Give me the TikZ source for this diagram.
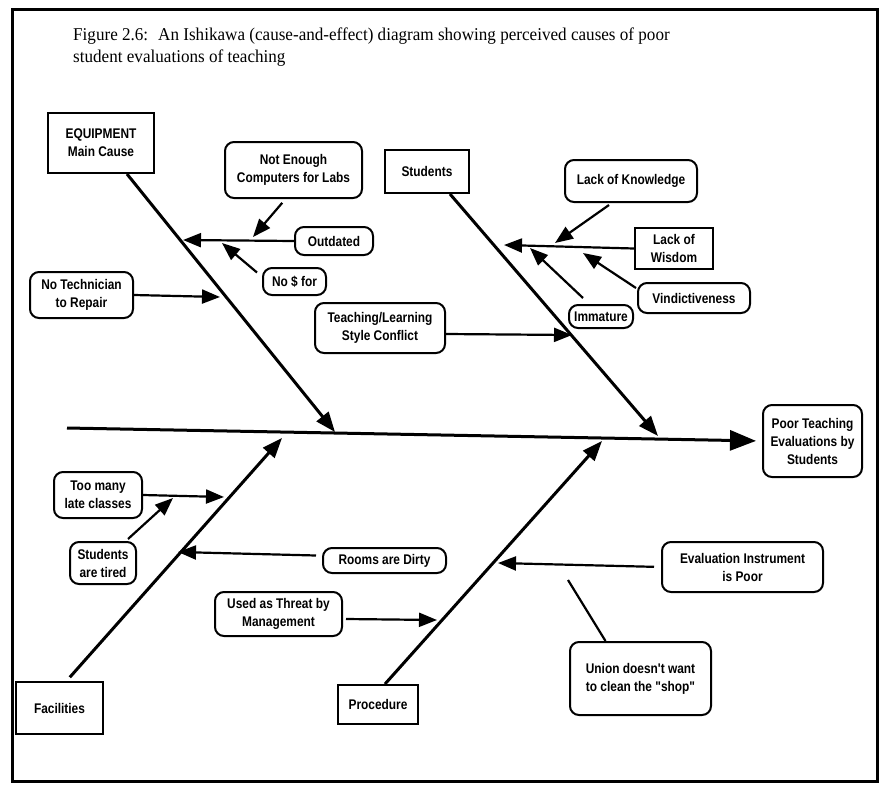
\documentclass[tikz,border=0pt]{standalone}
\usepackage{fontspec}
\setmainfont{Liberation Sans}[FakeStretch=0.85,Ligatures=TeXOff]
\newfontfamily\titlefont{Liberation Serif}[FakeStretch=0.95]
\usetikzlibrary{arrows.meta,calc}
\begin{document}
\begin{tikzpicture}[x=1pt,y=-1pt,
  box/.style={draw,line width=2pt,inner sep=0pt,align=center,font=\fontsize{14}{18}\selectfont\bfseries},
  rbox/.style={box,rounded corners=9pt},
  bone/.style={line width=3pt,-{Triangle[length=20pt,width=15pt]}},
  sub/.style={line width=2.2pt,-{Triangle[length=18pt,width=14pt]}},
  spine/.style={line width=3pt,-{Triangle[length=26pt,width=20pt]}},
  ttl/.style={anchor=base west,inner sep=0pt,font=\titlefont\fontsize{18}{22}\selectfont}]
\useasboundingbox (0,0) rectangle (891,798);
\fill[white] (0,0) rectangle (891,798);
% frame
\draw[line width=3pt] (12,9) rectangle (877,781);
% title
\node[ttl] (title1) at (73,40) {Figure 2.6:~ An Ishikawa (cause-and-effect) diagram showing perceived causes of poor};
\node[ttl] (title2) at (73,62) {student evaluations of teaching};

% main cause boxes
\node[box,minimum width=106,minimum height=60] (eq) at (101,143) {EQUIPMENT\\Main Cause};
\node[box,minimum width=84,minimum height=43] (stu) at (427,171.5) {Students};
\node[box,minimum width=87,minimum height=52] (fac) at (59.5,708) {Facilities};
\node[box,minimum width=80,minimum height=39] (pro) at (378,704.5) {Procedure};
\node[rbox,minimum width=99,minimum height=72] (eff) at (812.5,441) {Poor Teaching\\Evaluations by\\Students};

% sub cause boxes
\node[rbox,minimum width=137,minimum height=56] (nec) at (293.5,170) {Not Enough\\Computers for Labs};
\node[rbox,minimum width=78,minimum height=28] (out) at (334,241) {Outdated};
\node[rbox,minimum width=63,minimum height=27] (nos) at (294.5,281.5) {No \$ for};
\node[rbox,minimum width=103,minimum height=46] (ntr) at (81.5,295) {No Technician\\to Repair};
\node[rbox,minimum width=130,minimum height=50] (tlc) at (380,328) {Teaching/Learning\\Style Conflict};
\node[rbox,minimum width=132,minimum height=42] (lok) at (631,181) {Lack of Knowledge};
\node[box,minimum width=78,minimum height=41] (low) at (674,248.5) {Lack of\\Wisdom};
\node[rbox,minimum width=112,minimum height=30] (vin) at (694,298) {Vindictiveness};
\node[rbox,minimum width=64,minimum height=23] (imm) at (601,316.5) {Immature};
\node[rbox,minimum width=88,minimum height=46] (tml) at (98,495) {Too many\\late classes};
\node[rbox,minimum width=66,minimum height=42] (sat) at (103,563) {Students\\are tired};
\node[rbox,minimum width=123,minimum height=25] (rad) at (384.5,560.5) {Rooms are Dirty};
\node[rbox,minimum width=127,minimum height=44] (utm) at (278.5,614) {Used as Threat by\\Management};
\node[rbox,minimum width=161,minimum height=50] (eip) at (742.5,567) {Evaluation Instrument\\is Poor};
\node[rbox,minimum width=141,minimum height=73] (uni) at (640.5,678.5) {Union doesn't want\\to clean the "shop"};

% arrow tips
\coordinate (tail) at (67,428);
\coordinate (tEq) at (335,432);
\coordinate (tStu) at (658,436);
\coordinate (tFac) at (282,438);
\coordinate (tPro) at (602,441);
\coordinate (tOut) at (183,240);
\coordinate (tNec) at (253,237);
\coordinate (tNos) at (222,243);
\coordinate (tNtr) at (220,297);
\coordinate (tTlc) at (572,335);
\coordinate (tLok) at (555,243);
\coordinate (tLow) at (504,245);
\coordinate (tVin) at (583,253);
\coordinate (tImm) at (530,248);
\coordinate (tTml) at (224,497);
\coordinate (tSat) at (173,498);
\coordinate (tRad) at (178,552);
\coordinate (tUtm) at (437,620);
\coordinate (tEip) at (498,563);
\coordinate (tUni) at (568,580);

% spine and bones
\draw[spine,shorten >=6pt] (tail) -- (eff.west);
\draw[bone] ([xshift=26pt]eq.south) -- (tEq);
\draw[bone] ([xshift=23pt]stu.south) -- (tStu);
\draw[bone,shorten <=5pt] ([xshift=7pt]fac.north) -- (tFac);
\draw[bone] ([xshift=7pt]pro.north) -- (tPro);

% sub arrows
\draw[sub] (out.west) -- (tOut);
\draw[sub,shorten <=5pt] ([xshift=-8pt]nec.south) -- (tNec);
\draw[sub] ($(nos.west)+(-5,-9)$) -- (tNos);
\draw[sub] (ntr.east) -- (tNtr);
\draw[sub] ($(tlc.east)+(0,6)$) -- (tTlc);
\draw[sub] ($(lok.south)+(-22,2)$) -- (tLok);
\draw[sub] (low.west) -- (tLow);
\draw[sub] ($(vin.west)+(-1,-10)$) -- (tVin);
\draw[sub] ($(imm.north)+(-18,-6)$) -- (tImm);
\draw[sub] (tml.east) -- (tTml);
\draw[sub] ($(sat.north)+(25,-2)$) -- (tSat);
\draw[sub] ($(rad.west)+(-6,-5)$) -- (tRad);
\draw[sub] ($(utm.east)+(3,5)$) -- (tUtm);
\draw[sub,shorten <=7pt] (eip.west) -- (tEip);
\draw[line width=2.2pt] ($(uni.north)+(-35,0)$) -- (tUni);
\end{tikzpicture}
\end{document}
